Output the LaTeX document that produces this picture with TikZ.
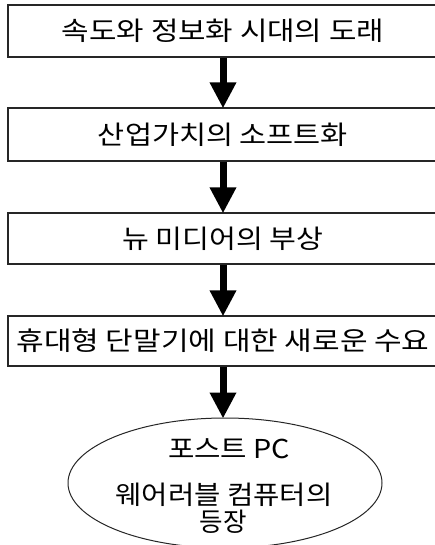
\documentclass[tikz,border=0pt]{standalone}
\usepackage{graphicx}
\usepackage{fontspec}
\newfontfamily\krfont{Noto Sans CJK KR}
\usetikzlibrary{arrows.meta,shapes.geometric}
\newcommand{\fitw}[2]{\resizebox{#1}{\height}{#2}}
\tikzset{
  stagebox/.style={draw=black!85, line width=1.3pt, fill=white, minimum width=430pt, minimum height=52pt, inner sep=0pt, font=\krfont\fontsize{26}{30}\selectfont},
  flowarrow/.style={line width=7pt, -{Triangle[width=25pt,length=26pt]}, shorten >=-1pt},
  ovaltext/.style={font=\krfont\fontsize{26}{30}\selectfont, inner sep=0pt}
}
\begin{document}
\begin{tikzpicture}[x=1pt,y=1pt]
\useasboundingbox (0,0) rectangle (434,-545);
\node[stagebox] (b1) at (223,-31) {\fitw{322pt}{속도와 정보화 시대의 도래}};
\node[stagebox, minimum height=53pt] (b2) at (223,-134.5) {\fitw{250pt}{산업가치의 소프트화}};
\node[stagebox, minimum height=51pt] (b3) at (223,-238.5) {\fitw{201pt}{뉴 미디어의 부상}};
\node[stagebox, minimum height=50pt] (b4) at (223,-341) {\fitw{413pt}{휴대형 단말기에 대한 새로운 수요}};
\node[draw=black!85, line width=1pt, ellipse, minimum width=314pt, minimum height=130pt, inner sep=0pt] (e) at (225,-483) {};
\node[ovaltext] (t1) at (229,-449) {\fitw{122pt}{포스트 PC}};
\node[ovaltext] (t2) at (224,-495) {\fitw{217pt}{웨어러블 컴퓨터의}};
\node[ovaltext] (t3) at (223,-522) {\fitw{47pt}{등장}};
\draw[flowarrow] (b1.south) -- (b2.north);
\draw[flowarrow] (b2.south) -- (b3.north);
\draw[flowarrow] (b3.south) -- (b4.north);
\draw[flowarrow] (b4.south) -- (b4.south |- e.north);
\end{tikzpicture}
\end{document}
